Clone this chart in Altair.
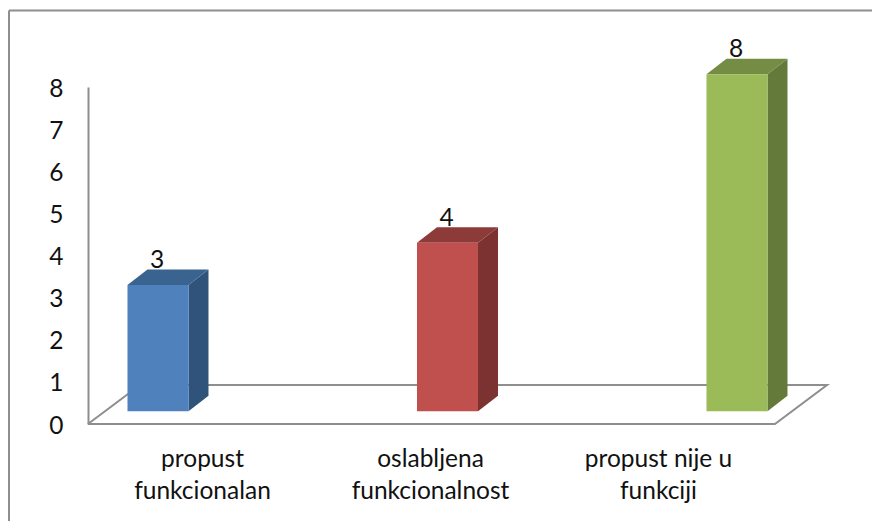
import altair as alt
import pandas as pd

# Chart values
categories = ["propust\nfunkcionalan", "oslabljena\nfunkcionalnost", "propust nije u\nfunkciji"]
values = [3, 4, 8]
front_colors = ["#4F81BD", "#C0504D", "#9BBB59"]
top_colors = ["#3B6390", "#8D3B39", "#748C43"]
side_colors = ["#30537B", "#7C3230", "#647A3A"]

# Oblique projection constants, in scale units
LIFT = 0.3          # bars stand this far above the front edge of the floor
HALF_W = 0.1054     # half of a bar's width
DEPTH_X = 0.069     # bar depth along x
DEPTH_Y = 0.368     # bar depth along y
FLOOR_L, FLOOR_R = -0.242, 2.131
FLOOR_DX, FLOOR_DY = 0.18, 0.926

FONT = "Lato"
FONT_SIZE = 24.5
GREY = "#8E8E8E"

x_scale = alt.Scale(domain=[0, 2], range=[158, 737])
y_scale = alt.Scale(domain=[0, 8], range=[424, 87])

fronts, sides, tops = [], [], []
for i, v in enumerate(values):
    l, r = i - HALF_W, i + HALF_W
    fronts.append(dict(x=l, x2=r, y=v + LIFT, y2=LIFT, fill=front_colors[i], v=v, c=i))
    sides += [
        dict(x=r, y=v + LIFT, y2=LIFT, fill=side_colors[i], c=i),
        dict(x=r + DEPTH_X, y=v + LIFT + DEPTH_Y, y2=LIFT + DEPTH_Y, fill=side_colors[i], c=i),
    ]
    tops += [
        dict(y=v + LIFT, x=l, x2=r, fill=top_colors[i], c=i),
        dict(y=v + LIFT + DEPTH_Y, x=l + DEPTH_X, x2=r + DEPTH_X, fill=top_colors[i], c=i),
    ]

floor = pd.DataFrame([
    dict(o=0, x=FLOOR_L, y=0),
    dict(o=1, x=FLOOR_R, y=0),
    dict(o=2, x=FLOOR_R + FLOOR_DX, y=FLOOR_DY),
    dict(o=3, x=FLOOR_L + FLOOR_DX, y=FLOOR_DY),
    dict(o=4, x=FLOOR_L, y=0),
])

X = alt.X("x:Q", scale=x_scale, axis=None)
X2 = alt.X2("x2:Q")
Y = alt.Y("y:Q", scale=y_scale, axis=None)
Y2 = alt.Y2("y2:Q")
FILL = alt.Fill("fill:N", scale=None, legend=None)

# Outer frame, open on the right and at the bottom
frame_left = alt.Chart(pd.DataFrame({"a": [0]})).mark_rule(color=GREY, strokeWidth=2).encode(
    x=alt.value(9), y=alt.value(10.5), y2=alt.value(521))
frame_top = alt.Chart(pd.DataFrame({"a": [0]})).mark_rule(color=GREY, strokeWidth=2).encode(
    x=alt.value(9), x2=alt.value(872), y=alt.value(10.5))

# Floor outline, with the value axis standing on its front corner
floor_layer = alt.Chart(floor).mark_line(color=GREY, strokeWidth=2).encode(
    x=X,
    y=alt.Y("y:Q", scale=y_scale, axis=alt.Axis(
        values=list(range(9)), orient="left", offset=-88, ticks=False, grid=False, title=None,
        domainColor=GREY, domainWidth=2, labelFont=FONT, labelFontSize=FONT_SIZE,
        labelColor="#111111", labelPadding=25, labelOffset=2)),
    order="o:Q",
)

side_layer = alt.Chart(pd.DataFrame(sides)).mark_area(orient="vertical").encode(
    x=X, y=Y, y2=Y2, fill=FILL, detail="c:N")
top_layer = alt.Chart(pd.DataFrame(tops)).mark_area(orient="horizontal").encode(
    y=Y, x=X, x2=X2, fill=FILL, detail="c:N")
front_layer = alt.Chart(pd.DataFrame(fronts)).mark_rect().encode(
    x=X, x2=X2, y=Y, y2=Y2, fill=FILL)

value_labels = alt.Chart(pd.DataFrame(fronts)).mark_text(
    font=FONT, fontSize=FONT_SIZE, color="#111111", dx=-1, dy=-24, baseline="middle"
).encode(
    x=alt.X("c:Q", scale=x_scale, axis=None),
    y=Y,
    text="v:Q",
)

# Category names sit on their own evenly spaced scale, below the floor
cat_layer = alt.Chart(pd.DataFrame({"cat": categories})).mark_point(opacity=0).encode(
    x=alt.X("cat:N", sort=None, scale=alt.Scale(domain=categories, range=[202, 658], padding=0),
            axis=alt.Axis(orient="bottom", offset=-97, domain=False, ticks=False, title=None,
                          labelAngle=0, labelFont=FONT, labelFontSize=FONT_SIZE, labelColor="#111111",
                          labelLimit=0, labelLineHeight=32, labelPadding=35, labelBaseline="middle",
                          labelExpr="split(datum.label, '\\n')")),
    y=alt.value(0),
)

chart = alt.layer(
    frame_left, frame_top, floor_layer, side_layer, top_layer, front_layer, value_labels, cat_layer
).resolve_scale(x="independent").resolve_axis(y="independent").properties(
    width=872, height=521, padding=0, autosize="none", background="white"
).configure_view(stroke=None)

chart.save("out.html", embed_options={"renderer": "svg", "actions": False})
